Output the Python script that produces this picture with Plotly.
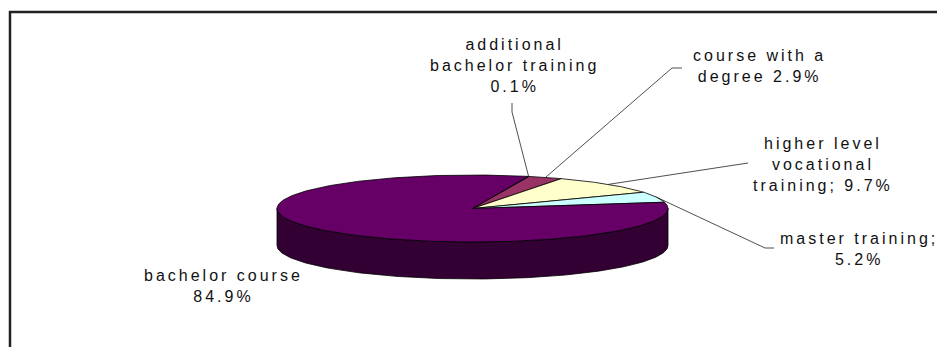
import math
import plotly.graph_objects as go

# ---- data ----
categories = [
    "additional bachelor training",
    "course with a degree",
    "higher level vocational training",
    "master training",
    "bachelor course",
]
values = [0.1, 2.9, 9.7, 5.2, 84.9]
label_templates = [
    "additional<br>bachelor training<br>{:.1f}%",
    "course with a<br>degree {:.1f}%",
    "higher level<br>vocational<br>training; {:.1f}%",
    "master training;<br>{:.1f}%",
    "bachelor course<br>{:.1f}%",
]
colors = ["#9999FF", "#993366", "#FFFFCC", "#CCFFFF", "#660066"]

# ---- layout geometry (pixel space) ----
W, H = 937, 347
CX, CY = 472.5, 208.5      # centre of top face
RX, RY = 195.5, 33.5       # ellipse radii
DEPTH = 37                 # thickness of the pie
START = 73.5               # angle (deg, ccw from 3 o'clock) where first slice begins; slices go clockwise

# label positions (centre of text block) and leader-line elbows
label_pos = [(514, 65), (759, 66), (823, 164), (859, 249), (223, 286)]
elbows = [
    [(512, 112), (512, 103)],
    [(672, 68), (682, 68)],
    [(748, 163)],
    [(765, 248), (774, 248)],
    None,
]

FONT = "Liberation Sans, Arial, sans-serif"
SPACING = "3px"


def pt(t, dy=0.0):
    r = math.radians(t)
    return CX + RX * math.cos(r), CY - RY * math.sin(r) + dy


def arc(t0, t1, dy=0.0, step=1.0):
    n = max(2, int(abs(t1 - t0) / step) + 1)
    return [pt(t0 + (t1 - t0) * i / (n - 1), dy) for i in range(n)]


def darker(hexcol, f=0.5):
    h = hexcol.lstrip("#")
    r, g, b = (int(h[i:i + 2], 16) for i in (0, 2, 4))
    return "#%02x%02x%02x" % (int(r * f), int(g * f), int(b * f))


total = sum(values)
spans = [v / total * 360.0 for v in values]
ranges = []
cum = 0.0
for s in spans:
    hi = START - cum
    lo = hi - s
    ranges.append((lo, hi))
    cum += s

fig = go.Figure()

# side walls (front half only)
for (lo, hi), col in zip(ranges, colors):
    for k in (-1, 0, 1):
        a = max(lo, 180 + 360 * k)
        b = min(hi, 360 + 360 * k)
        if b - a > 1e-6:
            top = arc(a, b)
            bot = arc(b, a, DEPTH)
            pts = top + bot + [top[0]]
            fig.add_trace(go.Scatter(
                x=[p[0] for p in pts], y=[p[1] for p in pts],
                mode="lines", fill="toself", fillcolor=darker(col),
                line=dict(color="#000000", width=0.8),
                hoverinfo="skip", showlegend=False))

# top faces
for (lo, hi), col, cat, v in zip(ranges, colors, categories, values):
    pts = [(CX, CY)] + arc(lo, hi, step=0.5) + [(CX, CY)]
    fig.add_trace(go.Scatter(
        x=[p[0] for p in pts], y=[p[1] for p in pts],
        mode="lines", fill="toself", fillcolor=col,
        line=dict(color="#000000", width=0.8),
        name=cat, hovertext=f"{cat}: {v}%", hoverinfo="text",
        showlegend=False))

# leader lines
for (lo, hi), el in zip(ranges, elbows):
    if not el:
        continue
    mid = (lo + hi) / 2.0
    ax, ay = pt(mid)
    pts = [(ax, ay)] + el
    fig.add_trace(go.Scatter(
        x=[p[0] for p in pts], y=[p[1] for p in pts],
        mode="lines", line=dict(color="#222222", width=0.8),
        hoverinfo="skip", showlegend=False))

# labels
for tpl, v, (lx, ly) in zip(label_templates, values, label_pos):
    lines = tpl.format(v).split("<br>")
    txt = "<br>".join(f'<span style="letter-spacing:{SPACING}">{ln}</span>' for ln in lines)
    fig.add_annotation(x=lx, y=ly, text=txt, showarrow=False,
                       xanchor="center", yanchor="middle", align="center",
                       font=dict(family=FONT, size=16, color="#111111"))

# frame
fig.add_shape(type="rect", x0=10, y0=12, x1=W + 20, y1=H + 20,
              line=dict(color="#222222", width=2.5), fillcolor="rgba(0,0,0,0)")

fig.update_layout(
    width=W, height=H, margin=dict(l=0, r=0, t=0, b=0),
    paper_bgcolor="white", plot_bgcolor="white",
    xaxis=dict(range=[0, W], visible=False, fixedrange=True),
    yaxis=dict(range=[H, 0], visible=False, fixedrange=True),
    showlegend=False,
)

fig.write_html("out.html")
